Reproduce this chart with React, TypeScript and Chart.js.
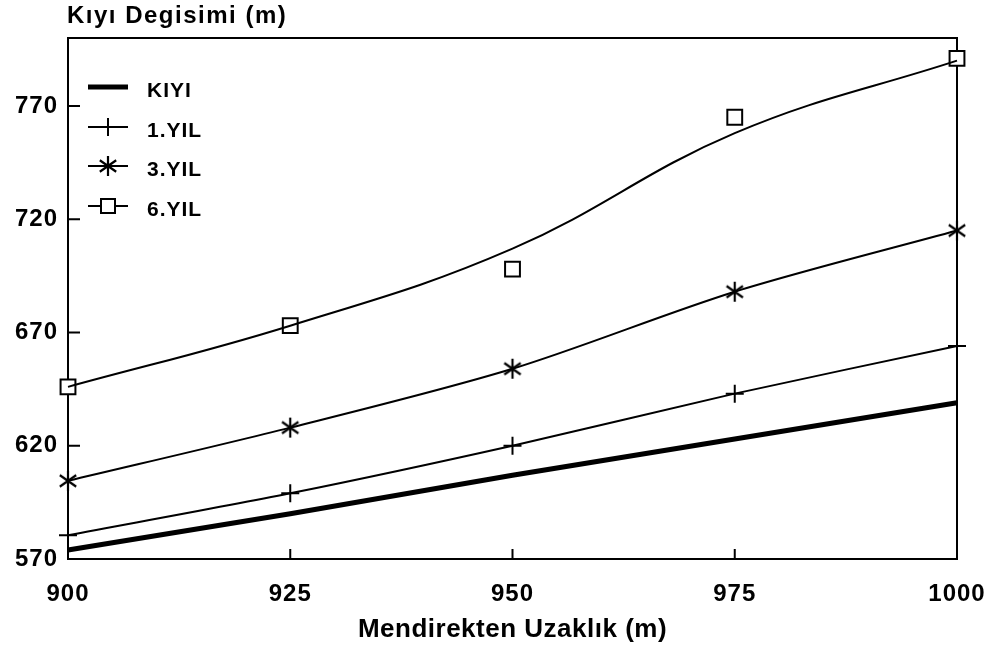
import React, { useEffect, useRef } from 'react';
import { Chart, registerables } from 'chart.js';

Chart.register(...registerables);

const X_VALUES = [900, 925, 950, 975, 1000];
const KIYI = [574, 590, 607, 623, 639];
const YIL1 = [580.5, 599, 620, 643, 664];
const YIL3 = [604.5, 628, 654, 688, 715];
const YIL6_POINTS = [646, 673, 698, 765, 791];
const YIL6_CURVE = [646, 673, 707, 758, 790];
const X_TICKS = [900, 925, 950, 975, 1000];
const Y_TICKS = [570, 620, 670, 720, 770];
const LEGEND_LABELS = ['KIYI', '1.YIL', '3.YIL', '6.YIL'];
const Y_TITLE = 'Kıyı Degisimi (m)';
const X_TITLE = 'Mendirekten Uzaklık (m)';

const FONT_FAMILY = '"Liberation Sans", Arial, sans-serif';

function makeAsterisk(): HTMLCanvasElement {
  const c = document.createElement('canvas');
  const s = 22;
  c.width = s;
  c.height = s;
  const ctx = c.getContext('2d')!;
  ctx.strokeStyle = '#000';
  ctx.lineWidth = 2.2;
  const cx = s / 2, cy = s / 2, r = 10;
  const angles = [90, 35, -35];
  ctx.beginPath();
  for (const a of angles) {
    const rad = (a * Math.PI) / 180;
    const dx = Math.cos(rad) * r, dy = Math.sin(rad) * r;
    ctx.moveTo(cx - dx, cy - dy);
    ctx.lineTo(cx + dx, cy + dy);
  }
  ctx.stroke();
  return c;
}

function pts(arr: number[]) {
  return X_VALUES.map((x, i) => ({ x, y: arr[i] }));
}

export default function App() {
  const ref = useRef<HTMLCanvasElement | null>(null);
  useEffect(() => {
    document.body.style.margin = '0';
    const canvas = ref.current!;
    const asterisk = makeAsterisk();

    const decor = {
      id: 'decor',
      beforeDraw(chart: any) {
        (chart.ctx as any).letterSpacing = '1px';
      },
      beforeDatasetsDraw(chart: any) {
        const { ctx, chartArea } = chart;
        const xs = chart.scales.x, ys = chart.scales.y;
        ctx.save();
        ctx.strokeStyle = '#000';
        ctx.lineWidth = 2;
        ctx.strokeRect(chartArea.left, chartArea.top, chartArea.right - chartArea.left, chartArea.bottom - chartArea.top);
        ctx.beginPath();
        for (const v of Y_TICKS) {
          const y = ys.getPixelForValue(v);
          ctx.moveTo(chartArea.left, y);
          ctx.lineTo(chartArea.left + 12, y);
        }
        for (const v of X_TICKS) {
          const x = xs.getPixelForValue(v);
          ctx.moveTo(x, chartArea.bottom);
          ctx.lineTo(x, chartArea.bottom - 10);
        }
        ctx.stroke();
        ctx.restore();
      },
      afterDraw(chart: any) {
        const { ctx, chartArea } = chart;
        ctx.save();
        ctx.fillStyle = '#000';
        ctx.font = `bold 24px ${FONT_FAMILY}`;
        (ctx as any).letterSpacing = '1.5px';
        ctx.textAlign = 'left';
        ctx.textBaseline = 'alphabetic';
        ctx.fillText(Y_TITLE, chartArea.left - 1, 23);
        ctx.font = `bold 26px ${FONT_FAMILY}`;
        (ctx as any).letterSpacing = '0.5px';
        ctx.textAlign = 'center';
        ctx.fillText(X_TITLE, (chartArea.left + chartArea.right) / 2, 637);
        const lineYs = [87, 127, 166, 206];
        const x0 = 88, x1 = 128, xm = 108;
        ctx.font = `bold 21px ${FONT_FAMILY}`;
        (ctx as any).letterSpacing = '1px';
        ctx.textAlign = 'left';
        LEGEND_LABELS.forEach((lab, i) => {
          const y = lineYs[i];
          ctx.strokeStyle = '#000';
          ctx.lineWidth = i === 0 ? 5 : 2;
          ctx.beginPath();
          ctx.moveTo(x0, y);
          ctx.lineTo(x1, y);
          ctx.stroke();
          ctx.lineWidth = 2;
          if (i === 1) {
            ctx.beginPath();
            ctx.moveTo(xm, y - 9);
            ctx.lineTo(xm, y + 9);
            ctx.stroke();
          } else if (i === 2) {
            ctx.drawImage(asterisk, xm - asterisk.width / 2, y - asterisk.height / 2);
          } else if (i === 3) {
            ctx.fillStyle = '#fff';
            ctx.fillRect(xm - 7, y - 7, 14, 14);
            ctx.strokeRect(xm - 7, y - 7, 14, 14);
            ctx.fillStyle = '#000';
          }
          ctx.fillText(lab, 147, y + 10);
        });
        ctx.restore();
      },
    };

    const tickFont = { family: FONT_FAMILY, size: 24, weight: 'bold' as const };

    const chart = new Chart(canvas, {
      type: 'line',
      data: {
        datasets: [
          {
            label: LEGEND_LABELS[0],
            data: pts(KIYI),
            borderColor: '#000',
            borderWidth: 5,
            pointRadius: 0,
            tension: 0,
            clip: false as any,
          },
          {
            label: LEGEND_LABELS[1],
            data: pts(YIL1),
            borderColor: '#000',
            borderWidth: 2,
            pointStyle: 'cross',
            pointRadius: 9,
            pointBorderWidth: 2,
            pointBorderColor: '#000',
            tension: 0.3,
            clip: false as any,
          },
          {
            label: LEGEND_LABELS[2],
            data: pts(YIL3),
            borderColor: '#000',
            borderWidth: 2,
            pointStyle: asterisk as any,
            pointRadius: 10,
            tension: 0.3,
            clip: false as any,
          },
          {
            label: LEGEND_LABELS[3] + ' eğri',
            data: pts(YIL6_CURVE),
            borderColor: '#000',
            borderWidth: 2,
            pointRadius: 0,
            tension: 0.4,
            clip: false as any,
          },
          {
            label: LEGEND_LABELS[3],
            data: pts(YIL6_POINTS),
            showLine: false,
            pointStyle: 'rect',
            pointRadius: 10.5,
            pointBorderWidth: 2,
            pointBorderColor: '#000',
            pointBackgroundColor: '#fff',
            clip: false as any,
          },
        ],
      },
      options: {
        animation: false,
        responsive: false,
        events: [],
        layout: { padding: { top: 38, right: 42, left: 0, bottom: 0 } },
        plugins: {
          legend: { display: false },
          tooltip: { enabled: false },
        },
        scales: {
          x: {
            type: 'linear',
            min: 900,
            max: 1000,
            afterBuildTicks: (s: any) => {
              s.ticks = X_TICKS.map((v) => ({ value: v }));
            },
            afterFit: (s: any) => {
              s.height = 89;
              s.paddingLeft = 0;
              s.paddingRight = 0;
            },
            grid: { display: false, drawTicks: false },
            border: { display: false },
            ticks: {
              padding: 21,
              color: '#000',
              font: tickFont,
              maxRotation: 0,
              autoSkip: false,
              callback: (v: any) => String(v),
            },
          },
          y: {
            type: 'linear',
            min: 570,
            max: 800,
            afterBuildTicks: (s: any) => {
              s.ticks = Y_TICKS.map((v) => ({ value: v }));
            },
            afterFit: (s: any) => {
              s.width = 68;
              s.paddingTop = 0;
              s.paddingBottom = 0;
            },
            grid: { display: false, drawTicks: false },
            border: { display: false },
            ticks: {
              padding: 10,
              color: '#000',
              font: tickFont,
              autoSkip: false,
              callback: (v: any) => String(v),
            },
          },
        },
      },
      plugins: [decor],
    });
    return () => chart.destroy();
  }, []);

  return (
    <div style={{ position: 'absolute', left: 0, top: 0, width: 999, height: 648, background: '#fff' }}>
      <canvas ref={ref} width={999} height={648} style={{ display: 'block', width: 999, height: 648 }} />
    </div>
  );
}
